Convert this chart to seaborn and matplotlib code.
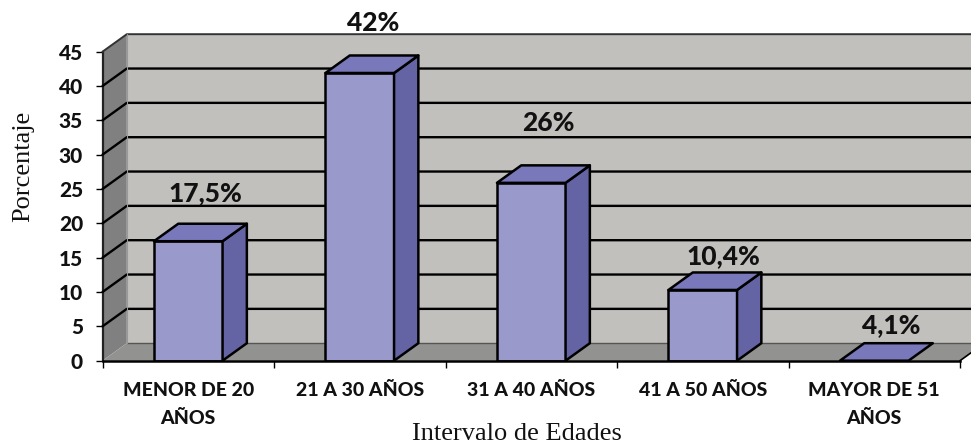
import numpy as np
import pandas as pd
import seaborn as sns
import matplotlib
matplotlib.use("Agg")
import matplotlib.pyplot as plt
from matplotlib.patches import Polygon

categories = ["MENOR DE 20\nAÑOS", "21 A 30 AÑOS", "31 A 40 AÑOS", "41 A 50 AÑOS", "MAYOR DE 51\nAÑOS"]
bar_heights = [17.4, 41.9, 25.9, 10.3, 0]
bar_labels = ["17,5%", "42%", "26%", "10,4%", "4,1%"]
label_y = [24.4, 49.2, 34.6, 15.3, 5.2]
label_shift = [0.10, 0.076, 0.10, 0.12, 0.10]
y_ticks = [0, 5, 10, 15, 20, 25, 30, 35, 40, 45]

sns.set_theme(style="white")
plt.rcParams["font.family"] = ["Lato", "DejaVu Sans"]

W, H = 971, 445
fig = plt.figure(figsize=(W / 100, H / 100), dpi=100)
ax = fig.add_axes([102.5 / W, 1 - 360.7 / H, (960 - 102.5) / W, (360.7 - 51.7) / H])

df = pd.DataFrame({"edad": categories, "pct": bar_heights})
sns.barplot(data=df, x="edad", y="pct", color="#9999cc", saturation=1, width=0.4,
            edgecolor="black", linewidth=1.8, ax=ax, zorder=5)
ax.set_xlim(-0.5, 4.5)
ax.set_ylim(0, 45)

# fake 3d depth
dx = 24.3 / 171.5
dy = 17.5 / 6.867

def face(points, color, z, lw=0.0, ec="none"):
    ax.add_patch(Polygon(points, closed=True, facecolor=color, edgecolor=ec, linewidth=lw,
                         clip_on=False, zorder=z, joinstyle="round"))

x0, x1 = -0.5, 4.5
face([(x0 + dx, dy), (x1 + dx, dy), (x1 + dx, 45 + dy), (x0 + dx, 45 + dy)], "#c1c0bd", 1)
face([(x0, 0), (x0 + dx, dy), (x0 + dx, 45 + dy), (x0, 45)], "#808080", 2)
face([(x0, 0), (x1, 0), (x1 + dx, dy), (x0 + dx, dy)], "#929290", 2)

for v in y_ticks[1:]:
    lw = 1.4 if v == 45 else 1.7
    col = "#333333" if v == 45 else "black"
    ax.plot([x0, x0 + dx, x1 + dx], [v, v + dy, v + dy], color=col, lw=lw, clip_on=False,
            zorder=3, solid_joinstyle="round")
ax.plot([x0 + dx, x1 + dx], [dy, dy], color="#555555", lw=1.0, clip_on=False, zorder=3)
ax.plot([x0 + dx, x0 + dx], [dy, 45 + dy], color="#999999", lw=0.8, clip_on=False, zorder=3)
ax.plot([x1, x1 + dx], [0, dy], color="black", lw=1.2, clip_on=False, zorder=3)

for bar in ax.patches[:5]:
    left = bar.get_x()
    right = left + bar.get_width()
    top = bar.get_height()
    if top > 0:
        face([(right, 0), (right + dx, dy), (right + dx, top + dy), (right, top)],
             "#6464a4", 6, 1.8, "black")
    face([(left, top), (left + dx, top + dy), (right + dx, top + dy), (right, top)],
         "#7878bb", 6, 1.8, "black")

for i, txt in enumerate(bar_labels):
    ax.text(i + label_shift[i], label_y[i], txt, ha="center", va="center", fontsize=19,
            fontweight="black", color="#111111", clip_on=False, zorder=8)

ax.set_yticks(y_ticks)
ax.set_xticks(np.arange(-0.5, 5, 1), minor=False)
ax.set_xticklabels([])
ax.set_xticks(np.arange(5), categories, minor=True)
ax.tick_params(axis="x", which="major", length=5, width=1.0, color="black", bottom=True)
ax.tick_params(axis="x", which="minor", length=0, pad=15, labelsize=14)
ax.tick_params(axis="y", length=5, width=1.0, color="black", left=True, labelsize=15, pad=9)
for t in ax.get_xticklabels(minor=True) + ax.get_yticklabels():
    t.set_fontweight("black")
    t.set_color("#111111")
for t in ax.get_xticklabels(minor=True):
    t.set_linespacing(1.8)
ax.set_xlabel("")
ax.set_ylabel("")

for side in ["top", "right"]:
    ax.spines[side].set_visible(False)
ax.spines["left"].set_color("#222222")
ax.spines["left"].set_linewidth(1.6)
ax.spines["bottom"].set_color("black")
ax.spines["bottom"].set_linewidth(1.8)
ax.spines["bottom"].set_zorder(7)

fig.text(23 / W, 1 - 166 / H, "Porcentaje", rotation=90, ha="center", va="center",
         family="Liberation Serif", fontsize=19, color="#111111")
fig.text(517 / W, 1 - 434 / H, "Intervalo de Edades", ha="center", va="center",
         family="Liberation Serif", fontsize=19, color="#111111")

fig.savefig("out.png", dpi=100, facecolor="white")
